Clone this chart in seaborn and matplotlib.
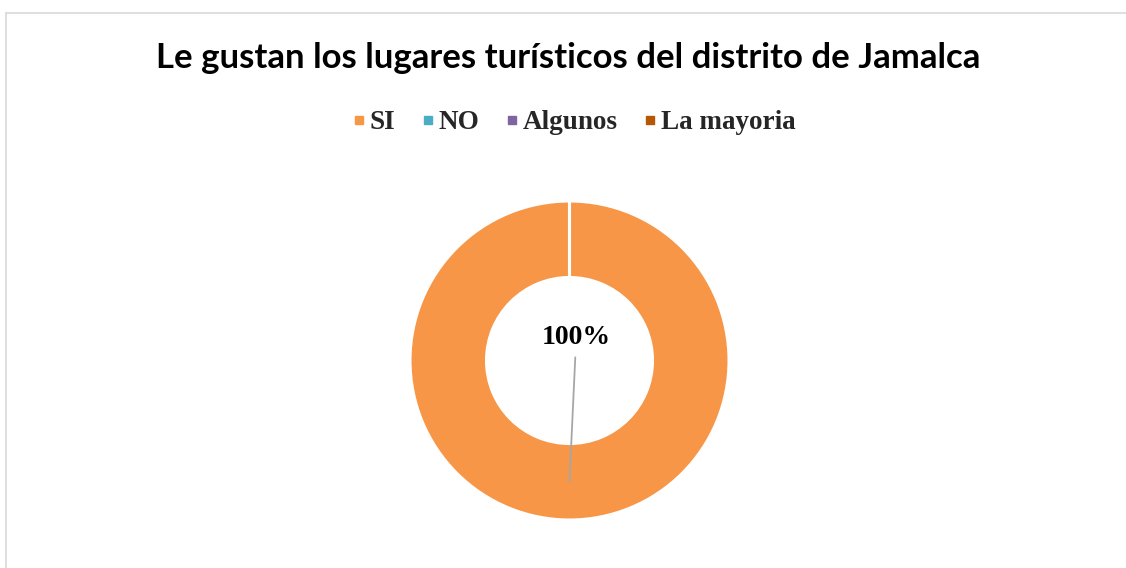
import numpy as np
import matplotlib
matplotlib.use("Agg")
import matplotlib.pyplot as plt
from matplotlib.lines import Line2D
import seaborn as sns

# Datos del grafico
categorias = ["SI", "NO", "Algunos", "La mayoria"]
valores = [100, 0, 0, 0]
colores = ["#F79646", "#4BACC6", "#8064A2", "#B65708"]
titulo = "Le gustan los lugares turísticos del distrito de Jamalca"

sns.set_theme(style="white")
plt.rcParams["font.family"] = ["Liberation Serif", "DejaVu Sans"]

W, H = 1126, 568
fig = plt.figure(figsize=(W / 100, H / 100), dpi=100)
fig.patch.set_facecolor("white")

# marco del area del grafico (borde superior e izquierdo visibles)
fig.add_artist(Line2D([6 / W, 1], [1 - 13 / H, 1 - 13 / H], color="#d9d9d9", lw=1.2))
fig.add_artist(Line2D([6 / W, 6 / W], [0, 1 - 13 / H], color="#d9d9d9", lw=1.2))

# donut
cx, cy, r = 569.5, 360.5, 159.5
ax = fig.add_axes([(cx - r) / W, (H - cy - r) / H, 2 * r / W, 2 * r / H])
ancho = 1 - 82.5 / 158.5
wedges, _ = ax.pie(valores, colors=colores, startangle=90, counterclock=False,
                   radius=1, wedgeprops=dict(width=ancho, edgecolor="white", linewidth=2.2))
ax.set_xlim(-1, 1)
ax.set_ylim(-1, 1)
ax.set_aspect("equal")
ax.axis("off")

# etiqueta con linea guia
total = sum(valores)
w = wedges[0]
ang = np.deg2rad((w.theta1 + w.theta2) / 2)
rm = 1 - ancho / 2
ancla = (rm * np.cos(ang), rm * np.sin(ang))
ax.annotate(f"{valores[0] / total:.0%}", xy=ancla, xytext=(0.042, 0.145),
            ha="center", va="center", fontsize=20, fontweight="bold",
            family=["Liberation Serif", "DejaVu Sans"], color="black",
            arrowprops=dict(arrowstyle="-", color="#a6a6a6", lw=1.3,
                            shrinkA=3, shrinkB=0))

# titulo
fig.text(568.5 / W, 1 - 68.5 / H, titulo, ha="center", va="baseline",
         fontsize=25, fontweight="bold", family=["Lato", "DejaVu Sans"], color="black")

# leyenda
handles = [Line2D([], [], marker="s", linestyle="none", markersize=6.4,
                  markerfacecolor=c, markeredgecolor=c) for c in colores]
leg = fig.legend(handles, categorias, loc="center", bbox_to_anchor=(574.5 / W, 1 - 122.5 / H),
                 ncol=4, frameon=False, handlelength=0.4, handletextpad=0.2,
                 columnspacing=1.0, borderaxespad=0, borderpad=0,
                 prop={"family": "Liberation Serif", "weight": "bold", "size": 19.5})

fig.savefig("out.png", dpi=100, facecolor="white")
